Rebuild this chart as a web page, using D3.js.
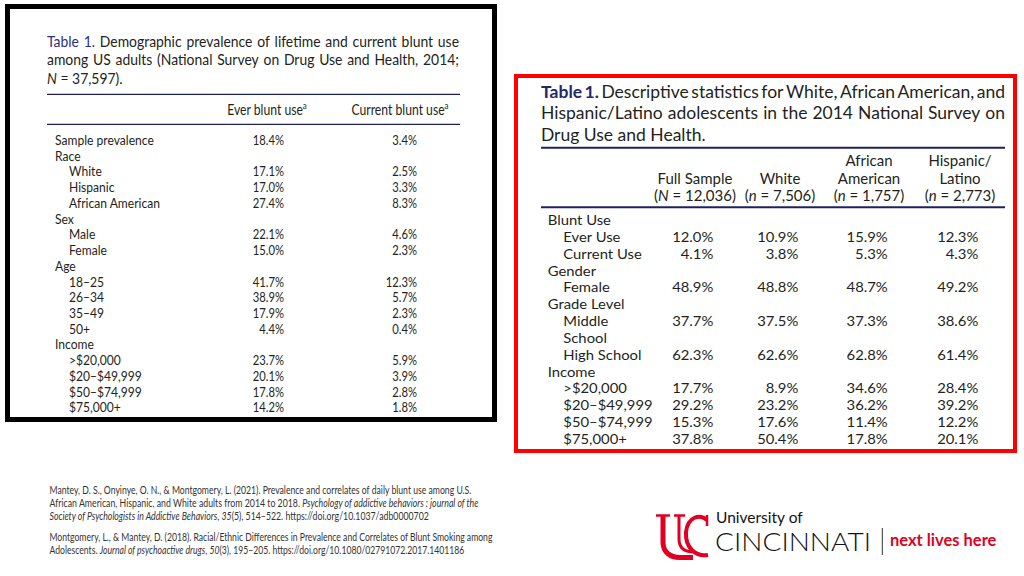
<!DOCTYPE html>
<html><head><meta charset="utf-8">
<script src="https://cdn.jsdelivr.net/npm/d3@7"></script>
<style>
html,body{margin:0;padding:0;background:#fff;}
svg{display:block;}
text{font-family:Lato,"Open Sans",sans-serif;}
</style></head>
<body>
<svg id="chart" width="1024" height="576"></svg>
<script>
// ---------------- DATA ----------------
// Left table: adults (NSDUH 2014)
const adultRows = ["Sample prevalence","Race","White","Hispanic","African American","Sex","Male","Female","Age","18–25","26–34","35–49","50+","Income",">$20,000","$20–$49,999","$50–$74,999","$75,000+"];
const adultLevels = [0,0,1,1,1,0,1,1,0,1,1,1,1,0,1,1,1,1];
const everBluntUse =    [18.4,null,17.1,17.0,27.4,null,22.1,15.0,null,41.7,38.9,17.9,4.4,null,23.7,20.1,17.8,14.2];
const currentBluntUse = [3.4,null,2.5,3.3,8.3,null,4.6,2.3,null,12.3,5.7,2.3,0.4,null,5.9,3.9,2.8,1.8];
const adultColumns = ["Ever blunt use","Current blunt use"];

// Right table: adolescents (NSDUH 2014)
const teenRows = [["Blunt Use"],["Ever Use"],["Current Use"],["Gender"],["Female"],["Grade Level"],["Middle","School"],["High School"],["Income"],[">$20,000"],["$20–$49,999"],["$50–$74,999"],["$75,000+"]];
const teenLevels = [0,1,1,0,1,0,1,1,0,1,1,1,1];
const fullSample =      [null,12.0,4.1,null,48.9,null,37.7,62.3,null,17.7,29.2,15.3,37.8];
const whiteTeens =      [null,10.9,3.8,null,48.8,null,37.5,62.6,null,8.9,23.2,17.6,50.4];
const africanAmerican = [null,15.9,5.3,null,48.7,null,37.3,62.8,null,34.6,36.2,11.4,17.8];
const hispanicLatino =  [null,12.3,4.3,null,49.2,null,38.6,61.4,null,28.4,39.2,12.2,20.1];
const teenColumnHeads = [["","Full Sample"],["","White"],["African","American"],["Hispanic/","Latino"]];
const teenColumnN = [["N","12,036"],["n","7,506"],["n","1,757"],["n","2,773"]];

const leftTitle = ["Table 1. Demographic prevalence of lifetime and current blunt use","among US adults (National Survey on Drug Use and Health, 2014;"];
const rightTitle = ["Table 1. Descriptive statistics for White, African American, and","Hispanic/Latino adolescents in the 2014 National Survey on","Drug Use and Health."];

// ---------------- DRAW ----------------
const svg = d3.select("#chart");
const fmt = v => d3.format(".1f")(v) + "%";
const NAVY = "#2b2f86", RULE = "#1d2061", INK = "#231f20";

function put(g, x, y, str, sx, anchor){
  return g.append("text").attr("transform",`translate(${x},${y}) scale(${sx},1)`)
    .attr("text-anchor", anchor||"start").text(str);
}
function justify(g, line, x0, x1, y, sx, size, isFirst, bold, navy){
  const words = line.split(" ");
  const nodes = words.map((w,i)=>{
    const lead = isFirst && i<2;
    const t = g.append("text").attr("font-size",size).attr("fill", lead ? navy : INK).text(w);
    if(lead && bold) t.attr("font-weight",700);
    return t;
  });
  const widths = nodes.map(n=>n.node().getComputedTextLength()*sx);
  const gap = (x1-x0-d3.sum(widths))/(words.length-1);
  let x = x0;
  nodes.forEach((n,i)=>{ n.attr("transform",`translate(${x},${y}) scale(${sx},1)`); x += widths[i]+gap; });
}

// ---- left box ----
svg.append("rect").attr("x",7.5).attr("y",6.5).attr("width",487).attr("height",413)
  .attr("fill","#fff").attr("stroke","#000").attr("stroke-width",5);
const L = svg.append("g");
const tSize = 15.3, tSx = 0.91;
justify(L, leftTitle[0], 47, 459, 46.5, tSx, tSize, true, false, NAVY);
justify(L, leftTitle[1], 47, 459, 65, tSx, tSize, false, false, NAVY);
const l3 = L.append("text").attr("transform",`translate(47,83.5) scale(${tSx},1)`).attr("font-size",tSize).attr("fill",INK);
l3.append("tspan").attr("font-style","italic").text("N");
l3.append("tspan").text(" = 37,597).");
[94.3,124.3].forEach(y=>L.append("line").attr("x1",47).attr("x2",460).attr("y1",y).attr("y2",y).attr("stroke",RULE).attr("stroke-width",1.3));

const xLeftCols = d3.scaleOrdinal().domain(adultColumns).range([267,400]);
const xLeftVals = d3.scaleOrdinal().domain(adultColumns).range([284,417]);
adultColumns.forEach(c=>{
  const t = L.append("text").attr("transform",`translate(${xLeftCols(c)},115) scale(0.84,1)`)
    .attr("text-anchor","middle").attr("font-size",14.5).attr("fill",INK);
  t.append("tspan").text(c);
  t.append("tspan").attr("font-size",9.5).attr("dy",-6).text("a");
});
const sxL = 0.93;
const yLeft = d3.scaleLinear().domain([0,adultRows.length-1]).range([145,412.3]);
adultRows.forEach((r,i)=>{
  put(L, adultLevels[i]?69:55, yLeft(i), r, sxL).attr("font-size",13).attr("fill",INK);
  [[everBluntUse,adultColumns[0]],[currentBluntUse,adultColumns[1]]].forEach(([arr,c])=>{
    if(arr[i]!=null) put(L, xLeftVals(c), yLeft(i), fmt(arr[i]), sxL*0.93, "end").attr("font-size",13).attr("fill",INK);
  });
});

// ---- right box ----
svg.append("rect").attr("x",516).attr("y",76).attr("width",499).attr("height",375)
  .attr("fill","#fff").attr("stroke","#f00").attr("stroke-width",4);
const R = svg.append("g");
justify(R, rightTitle[0], 541, 1005, 97.7, 1, 17.5, true, true, "#1f2a6b");
justify(R, rightTitle[1], 541, 1005, 119.3, 1, 17.5, false, false, INK);
R.append("text").attr("x",541).attr("y",140.5).attr("font-size",17.5).attr("fill",INK).text(rightTitle[2]);
[147.7,207.3].forEach(y=>R.append("line").attr("x1",541).attr("x2",1005).attr("y1",y).attr("y2",y).attr("stroke",RULE).attr("stroke-width",2));

const colKeys = ["full","white","aa","hisp"];
const colData = [fullSample, whiteTeens, africanAmerican, hispanicLatino];
const xHead = d3.scaleOrdinal().domain(colKeys).range([695,780,869,960]);
const xVal  = d3.scaleOrdinal().domain(colKeys).range([713.3,798.3,887.7,978.3]);
colKeys.forEach((k,j)=>{
  const h = teenColumnHeads[j];
  if(h[0]) R.append("text").attr("x",xHead(k)).attr("y",165.5).attr("text-anchor","middle").attr("font-size",15).attr("fill",INK).text(h[0]);
  R.append("text").attr("x",xHead(k)).attr("y",183.5).attr("text-anchor","middle").attr("font-size",15).attr("fill",INK).text(h[1]);
  const t = R.append("text").attr("x",xHead(k)).attr("y",201).attr("text-anchor","middle").attr("font-size",15).attr("fill",INK);
  t.append("tspan").text("(");
  t.append("tspan").attr("font-style","italic").text(teenColumnN[j][0]);
  t.append("tspan").text(" = " + teenColumnN[j][1] + ")");
});
const sxR = 1.06;
const nLines = d3.sum(teenRows, r=>r.length);
const yRight = d3.scaleLinear().domain([0,nLines-1]).range([225,444]);
let li = 0;
teenRows.forEach((r,i)=>{
  r.forEach((part,pi)=>{
    put(R, teenLevels[i]?563.3:547.7, yRight(li+pi), part, sxR).attr("font-size",14).attr("fill",INK);
  });
  colKeys.forEach((k,j)=>{
    const v = colData[j][i];
    if(v!=null) put(R, xVal(k), yRight(li), fmt(v), sxR, "end").attr("font-size",14).attr("fill",INK);
  });
  li += r.length;
});

// ---- references ----
const refs = [
  [["Mantey, D. S., Onyinye, O. N., & Montgomery, L. (2021). Prevalence and correlates of daily blunt use among U.S.",0]],
  [["African American, Hispanic, and White adults from 2014 to 2018. ",0],["Psychology of addictive behaviors : journal of the",1]],
  [["Society of Psychologists in Addictive Behaviors",1],[", ",0],["35",1],["(5), 514–522. https://doi.org/10.1037/adb0000702",0]],
  [["Montgomery, L., & Mantey, D. (2018). Racial/Ethnic Differences in Prevalence and Correlates of Blunt Smoking among",0]],
  [["Adolescents. ",0],["Journal of psychoactive drugs",1],[", ",0],["50",1],["(3), 195–205. https://doi.org/10.1080/02791072.2017.1401186",0]]
];
const refY = [493.5,507,520,541,554];
const refEnd = [472,479,429,493,465];
refs.forEach((line,i)=>{
  const t = svg.append("text").attr("font-size",10.5).attr("fill","#333");
  line.forEach(([s,it])=>t.append("tspan").attr("font-style",it?"italic":"normal").text(s));
  const w = t.node().getComputedTextLength();
  t.attr("transform",`translate(49.5,${refY[i]}) scale(${(refEnd[i]-49.5)/w},1)`);
});

// ---- University of Cincinnati logo ----
const UC = "#e00122";
const logo = svg.append("g").attr("fill","none").attr("stroke",UC).attr("stroke-linecap","butt");
logo.append("path").attr("d","M663,516 V542 C663,552 670,557.5 680,557.5 H693").attr("stroke-width",5);
logo.append("path").attr("d","M656,515.5 H670").attr("stroke-width",2.5);
logo.append("path").attr("d","M679,516 V539 C679,548 685,552 694,552").attr("stroke-width",3);
logo.append("path").attr("d","M674,515.5 H685").attr("stroke-width",2.5);
logo.append("path").attr("d","M707,520 C700,514 688,516 686,532 C685,548 696,557 708,555").attr("stroke-width",4);
logo.append("path").attr("d","M707,515 V526").attr("stroke-width",2.5);
svg.append("text").attr("x",716).attr("y",522.5).attr("font-family","'Liberation Serif',serif").attr("font-size",15.5).attr("fill","#111").text("University of");
svg.append("text").attr("x",715).attr("y",551).attr("font-size",26).attr("font-weight",300).attr("fill","#111")
  .attr("textLength",156).attr("lengthAdjust","spacingAndGlyphs").text("CINCINNATI");
svg.append("line").attr("x1",882.3).attr("x2",882.3).attr("y1",528).attr("y2",555).attr("stroke","#333").attr("stroke-width",1);
svg.append("text").attr("x",890).attr("y",545.5).attr("font-size",16.5).attr("font-weight",700).attr("fill",UC).text("next lives here");
</script>
</body></html>
